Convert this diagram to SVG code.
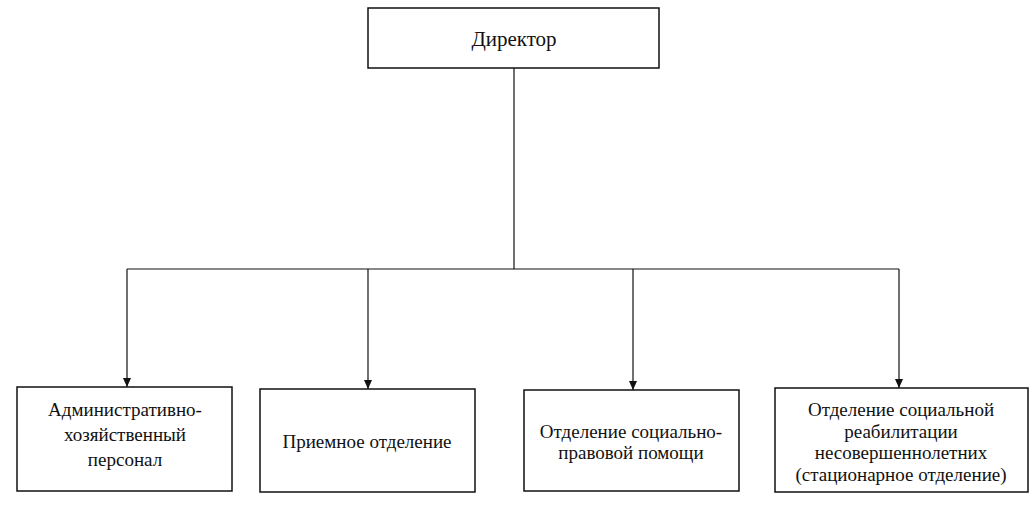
<svg xmlns="http://www.w3.org/2000/svg" width="1033" height="509" viewBox="0 0 1033 509">
<defs>
<style>
.box{fill:#fff;stroke:#111;stroke-width:1.5}
.t{font-family:"Liberation Serif","DejaVu Serif",serif;font-size:19px;fill:#111;text-anchor:middle}
.c{fill:none;stroke:#111;stroke-width:1.2}
</style>
<marker id="ah" markerWidth="10" markerHeight="10" refX="9" refY="5" orient="auto" markerUnits="userSpaceOnUse">
<path d="M0,1 L9,5 L0,9 z" fill="#111"/>
</marker>
</defs>
<rect width="1033" height="509" fill="#fff"/>
<g id="connectors">
<line class="c" x1="514" y1="68" x2="514" y2="269"/>
<line class="c" x1="127" y1="269" x2="899" y2="269"/>
<line class="c" x1="127" y1="269" x2="127" y2="387" marker-end="url(#ah)"/>
<line class="c" x1="368" y1="269" x2="368" y2="389" marker-end="url(#ah)"/>
<line class="c" x1="633" y1="269" x2="633" y2="390" marker-end="url(#ah)"/>
<line class="c" x1="899" y1="269" x2="899" y2="388" marker-end="url(#ah)"/>
</g>
<g id="director">
<rect class="box" x="368" y="8" width="291" height="60"/>
<text class="t" x="514" y="46" style="font-size:21px">Директор</text>
</g>
<g id="admin">
<rect class="box" x="17" y="387" width="215" height="104"/>
<text class="t" x="125" y="416">Административно-</text>
<text class="t" x="125" y="441">хозяйственный</text>
<text class="t" x="125" y="466">персонал</text>
</g>
<g id="priem">
<rect class="box" x="260" y="389" width="215" height="103"/>
<text class="t" x="367" y="448">Приемное отделение</text>
</g>
<g id="pravo">
<rect class="box" x="524" y="390" width="215" height="101"/>
<text class="t" x="631" y="438">Отделение социально-</text>
<text class="t" x="631" y="459">правовой помощи</text>
</g>
<g id="reab">
<rect class="box" x="775" y="388" width="253" height="104"/>
<text class="t" x="901" y="416">Отделение социальной</text>
<text class="t" x="901" y="438">реабилитации</text>
<text class="t" x="901" y="459">несовершеннолетних</text>
<text class="t" x="901" y="481">(стационарное отделение)</text>
</g>
</svg>
